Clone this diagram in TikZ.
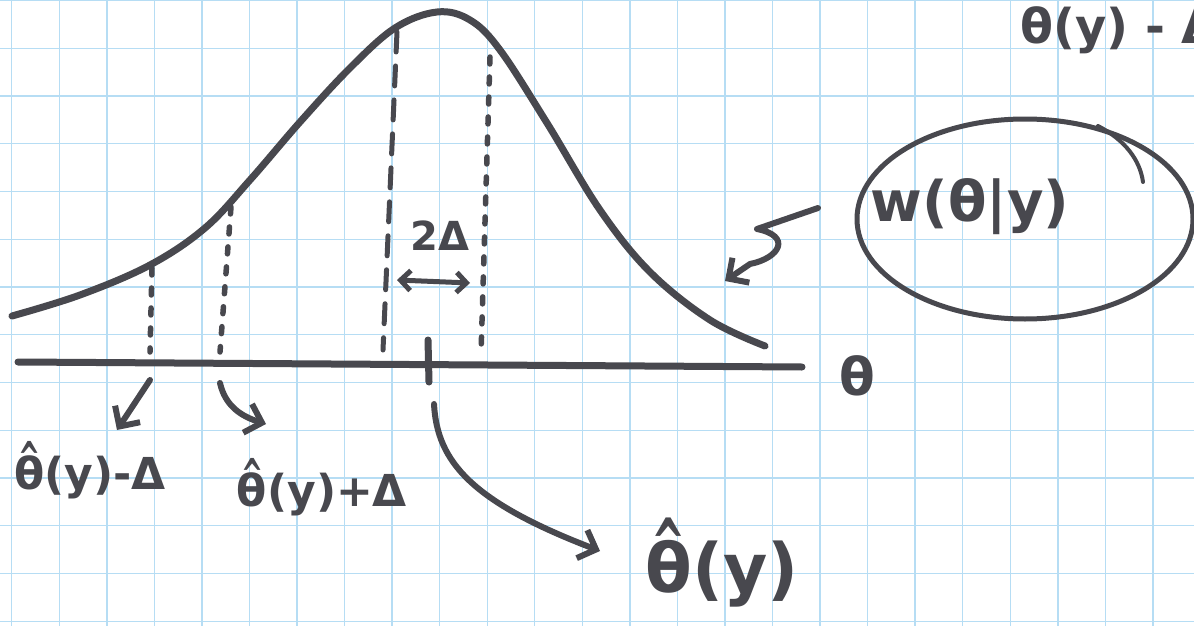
\documentclass[tikz,border=0pt]{standalone}
\usepackage{fontspec}
\setmainfont{DejaVu Sans}
\usetikzlibrary{arrows.meta}

\definecolor{ink}{HTML}{48484E}
\definecolor{gridblue}{HTML}{B6DDF4}

% theta with a hat on top
\newcommand{\thhat}{\leavevmode\vbox{\offinterlineskip\halign{\hfil##\hfil\cr
  \scalebox{0.6}[1]{\^{}}\cr\noalign{\kern-0.40em}θ\cr}}}

\begin{document}
\begin{tikzpicture}[x=1pt, y=-1pt,
    gridline/.style={draw=gridblue, line width=1.4pt},
    marker/.style={draw=ink, line width=7pt, line cap=round, line join=round},
    dotline/.style={draw=ink, line width=5.5pt, line cap=round, dash pattern=on 7pt off 13pt},
    dashline/.style={draw=ink, line width=5pt, line cap=round, dash pattern=on 20pt off 14pt},
    pointer/.style={draw=ink, line width=6pt, line cap=round, line join=round,
      -{Straight Barb[length=15pt,width=30pt]}},
    hand/.style={text=ink, inner sep=0pt, font=\bfseries\fontsize{44}{48}\selectfont}]

    % Paper
    \fill[white] (0,0) rectangle (1194,626);
    \useasboundingbox (0,0) rectangle (1194,626);
    \clip (0,0) rectangle (1194,626);
    \foreach \i in {0,...,25} {\draw[gridline] ({11.7+47.55*\i},0) -- ({11.7+47.55*\i},626);}
    \foreach \j in {0,...,13} {\draw[gridline] (0,{0.5+47.75*\j}) -- (1194,{0.5+47.75*\j});}

    % Bell curve
    \draw[marker] plot[smooth, tension=0.6] coordinates {(12,316) (80,295) (150,265)
      (205,228) (250,180) (300,122) (350,68) (395,28) (437,12) (470,20) (500,50)
      (547,123) (600,210) (650,272) (710,320) (765,346)};

    % Axis and tick
    \coordinate (ax1) at (18,362);
    \coordinate (ax2) at (802,367);
    \coordinate (tk1) at (428,340);
    \coordinate (tk2) at (429,382);
    \draw[marker] (ax1) -- (ax2);
    \draw[marker] (tk1) -- (tk2);
    \node[hand, font=\bfseries\fontsize{52}{56}\selectfont] (thlab) at (857,376) {θ};

    % Drop lines from the curve
    \coordinate (d1t) at (152,268);
    \coordinate (d1b) at (150,352);
    \coordinate (d2t) at (231,207);
    \coordinate (d2b) at (220,352);
    \coordinate (d3t) at (397,32);
    \coordinate (d3b) at (383,350);
    \coordinate (d4t) at (490,57);
    \coordinate (d4b) at (481,354);
    \draw[dotline] (d1t) -- (d1b);
    \draw[dotline] (d2t) -- (d2b);
    \draw[dashline] (d3t) -- (d3b);
    \draw[dotline] (d4t) -- (d4b);

    % Width of the interval
    \coordinate (wl) at (397,280);
    \coordinate (wr) at (470,283);
    \draw[draw=ink, line width=5pt, line cap=round,
      {Straight Barb[length=10pt,width=20pt]}-{Straight Barb[length=10pt,width=20pt]}] (wl) -- (wr);
    \node[hand, font=\bfseries\fontsize{40}{44}\selectfont] (twodelta) at (440,236) {2Δ};

    % Labels below the axis
    \node[hand] (lo) at (90,470) {\thhat(y)-Δ};
    \node[hand] (hi) at (322,487) {\thhat(y)+Δ};
    \node[hand, font=\bfseries\fontsize{68}{72}\selectfont] (est) at (722,563) {\thhat(y)};

    \coordinate (lofoot) at (150,380);
    \coordinate (loin) at (117,430);
    \coordinate (hifoot) at (220,383);
    \coordinate (hiin) at (266,424);
    \coordinate (tkfoot) at (434,404);
    \coordinate (estin) at (600,551);
    \draw[pointer] (lofoot) -- (loin);
    \draw[pointer] (hifoot) .. controls (225,405) and (240,416) .. (hiin);
    \draw[pointer] (tkfoot) .. controls (437,462) and (472,502) .. (estin);

    % Posterior label in its ellipse
    \draw[draw=ink, line width=5pt] (1025,219) ellipse [x radius=168, y radius=100];
    \draw[draw=ink, line width=4pt, line cap=round] (1098,126) .. controls (1125,140) and (1140,160) .. (1143,182);
    \node[hand, font=\bfseries\fontsize{56}{60}\selectfont] (wpost) at (970,207) {w(θ|y)};

    \coordinate (sqstart) at (818,208);
    \coordinate (sqend) at (725,281);
    \draw[pointer] (sqstart) -- (757,229) .. controls (792,236) and (780,258) .. (750,264) -- (sqend);

    % Cut-off note at the top right
    \node[hand, font=\bfseries\fontsize{48}{52}\selectfont, anchor=west] (cut) at (1020,30) {θ(y) - Δ};

\end{tikzpicture}
\end{document}
